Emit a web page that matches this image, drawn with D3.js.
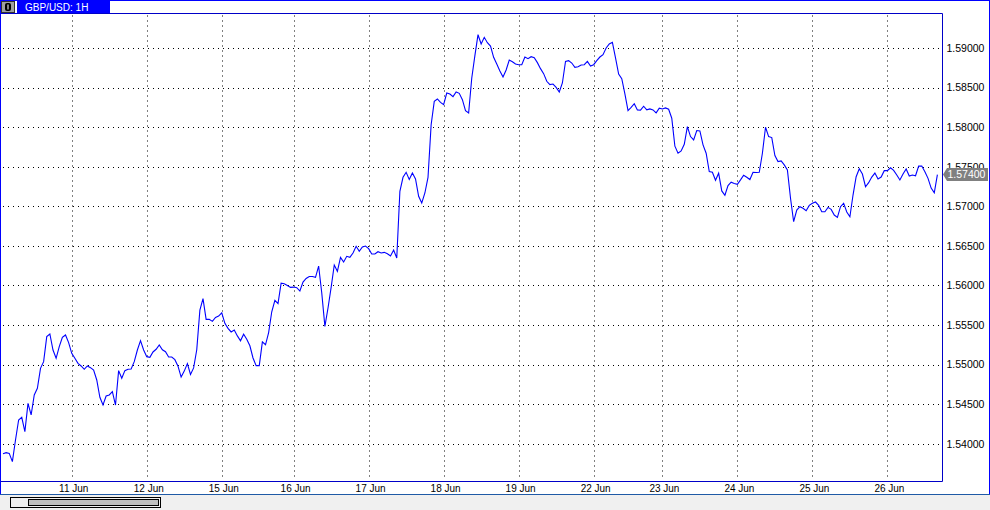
<!DOCTYPE html>
<html><head><meta charset="utf-8">
<script src="https://cdn.jsdelivr.net/npm/d3@7"></script>
<style>
body{margin:0;background:#fff;overflow:hidden}
text{font-family:"Liberation Sans",Arial,sans-serif}
</style>
</head><body><svg id="c" width="990" height="510"></svg>
<script>
// ---------- data ----------
const symbolTitle = "GBP/USD: 1H";
const dayLabels = ["11 Jun","12 Jun","15 Jun","16 Jun","17 Jun","18 Jun","19 Jun","22 Jun","23 Jun","24 Jun","25 Jun","26 Jun"];
const dayStartBar = [22,46,70,93,117,141,165,189,211,235,259,283];
const priceTicks = [1.54,1.545,1.55,1.555,1.56,1.565,1.57,1.575,1.58,1.585,1.59];
const closes = [
1.53874,1.53887,1.53878,1.53773,1.54047,1.54300,1.54333,1.54152,1.54510,1.54363,
1.54616,1.54700,1.54952,1.55037,1.55353,1.55386,1.55184,1.55079,1.55226,1.55344,
1.55374,1.55277,1.55142,1.55079,1.55016,1.54982,1.54940,1.54982,1.54961,1.54931,
1.54805,1.54586,1.54489,1.54603,1.54616,1.54658,1.54489,1.54923,1.54826,1.54923,
1.54940,1.54944,1.55037,1.55184,1.55302,1.55184,1.55100,1.55092,1.55159,1.55193,
1.55247,1.55187,1.55162,1.55096,1.55096,1.55062,1.54979,1.54842,1.54917,1.55012,
1.54875,1.54958,1.55187,1.55687,1.55833,1.55571,1.55571,1.55546,1.55596,1.55612,
1.55654,1.55521,1.55458,1.55412,1.55437,1.55362,1.55300,1.55383,1.55321,1.55237,
1.55083,1.54987,1.54987,1.55287,1.55250,1.55404,1.55667,1.55812,1.55771,1.56029,
1.56021,1.56000,1.55975,1.55979,1.55971,1.55929,1.56042,1.56088,1.56113,1.56113,
1.56102,1.56245,1.55904,1.55483,1.55715,1.55976,1.56258,1.56178,1.56355,1.56296,
1.56368,1.56355,1.56410,1.56494,1.56431,1.56485,1.56498,1.56464,1.56397,1.56397,
1.56426,1.56410,1.56418,1.56401,1.56372,1.56448,1.56346,1.57189,1.57366,1.57429,
1.57340,1.57420,1.57345,1.57126,1.57041,1.57168,1.57366,1.58031,1.58326,1.58356,
1.58313,1.58284,1.58431,1.58419,1.58385,1.58444,1.58427,1.58347,1.58208,1.58179,
1.58621,1.58903,1.59168,1.59051,1.59135,1.59067,1.59025,1.58882,1.58798,1.58709,
1.58634,1.58722,1.58848,1.58827,1.58798,1.58789,1.58789,1.58886,1.58865,1.58890,
1.58878,1.58815,1.58739,1.58676,1.58579,1.58537,1.58545,1.58503,1.58444,1.58558,
1.58831,1.58840,1.58810,1.58756,1.58764,1.58785,1.58789,1.58831,1.58772,1.58789,
1.58840,1.58886,1.58916,1.59000,1.59051,1.59072,1.58874,1.58671,1.58612,1.58419,
1.58208,1.58250,1.58297,1.58218,1.58214,1.58264,1.58218,1.58230,1.58218,1.58180,
1.58239,1.58230,1.58243,1.58226,1.58113,1.57759,1.57670,1.57700,1.57784,1.58007,
1.57881,1.57839,1.57957,1.57952,1.57776,1.57670,1.57439,1.57430,1.57329,1.57418,
1.57194,1.57140,1.57262,1.57304,1.57287,1.57278,1.57333,1.57392,1.57367,1.57338,
1.57430,1.57426,1.57430,1.57670,1.57999,1.57881,1.57868,1.57641,1.57565,1.57573,
1.57523,1.57460,1.57102,1.56805,1.56952,1.56995,1.56974,1.56944,1.57011,1.57037,
1.57054,1.57011,1.56931,1.56931,1.56986,1.56961,1.56889,1.56860,1.56995,1.57037,
1.56927,1.56868,1.57142,1.57374,1.57475,1.57407,1.57247,1.57298,1.57369,1.57420,
1.57344,1.57369,1.57450,1.57450,1.57487,1.57454,1.57395,1.57332,1.57407,1.57471,
1.57382,1.57395,1.57386,1.57508,1.57508,1.57437,1.57353,1.57230,1.57171,1.57400
];
const lastPrice = closes[closes.length - 1];

// ---------- layout ----------
const svg = d3.select("#c");
const plotL = 1, plotT = 13.5, plotR = 942.5, plotB = 481.5;
const x = d3.scaleLinear().domain([0, closes.length - 1]).range([3, 937.4]);
const y = d3.scaleLinear().domain([1.54, 1.59]).range([443.7, 48]);
const px = v => Math.round(v) + 0.5;

// window background
svg.append("rect").attr("x",0).attr("y",0).attr("width",990).attr("height",510).attr("fill","#fff");

// bottom scrollbar strip
svg.append("rect").attr("x",0).attr("y",495).attr("width",990).attr("height",15).attr("fill","#f0f0f0");
svg.append("rect").attr("x",10.5).attr("y",497.5).attr("width",150).attr("height",10)
  .attr("fill","#f0f0f0").attr("stroke","#000");
svg.append("rect").attr("x",28.5).attr("y",499.5).attr("width",130).attr("height",6)
  .attr("fill","#c0c0c0").attr("stroke","#000");

// grid
const grid = svg.append("g").attr("stroke","#000").attr("stroke-dasharray","1,4").attr("stroke-width",1);
grid.selectAll("line.h").data(priceTicks).join("line").attr("class","h")
  .attr("x1",plotL+2).attr("x2",plotR-1).attr("y1",d=>px(y(d))).attr("y2",d=>px(y(d)));
grid.selectAll("line.v").data(dayStartBar).join("line").attr("class","v")
  .attr("y1",plotT+2).attr("y2",plotB-1).attr("x1",d=>px(x(d))).attr("x2",d=>px(x(d)));

// price line
svg.append("defs").append("clipPath").attr("id","clip").append("rect")
  .attr("x",plotL).attr("y",plotT).attr("width",plotR-plotL).attr("height",plotB-plotT);
svg.append("path").datum(closes)
  .attr("clip-path","url(#clip)")
  .attr("fill","none").attr("stroke","#0000ff").attr("stroke-width",1.1)
  .attr("d", d3.line().x((d,i)=>x(i)).y(d=>y(d)));

// plot frame
const frame = svg.append("g").attr("stroke","#0000c8").attr("fill","none");
frame.append("path").attr("d",`M0,${plotT}H${plotR}V${plotB}H0`);

// right price axis
const yAxis = svg.append("g").attr("transform",`translate(${plotR},0)`)
  .call(d3.axisRight(y).tickValues(priceTicks).tickSize(0).tickPadding(4).tickFormat(d3.format(".5f")));
yAxis.select(".domain").remove();
yAxis.selectAll("text").attr("font-size","10.5px").attr("fill","#000")
  .style("font-family","'Liberation Sans',Arial,sans-serif");

// bottom date axis
const xAxis = svg.append("g").attr("transform",`translate(1.5,${plotB})`)
  .call(d3.axisBottom(x).tickValues(dayStartBar).tickSize(0).tickPadding(3)
    .tickFormat((d,i)=>dayLabels[i]));
xAxis.select(".domain").remove();
xAxis.selectAll("text").attr("font-size","10px").attr("fill","#000")
  .style("font-family","'Liberation Sans',Arial,sans-serif");

// last price marker (covers the lower part of the 1.57500 label, as in the original)
const ly = y(lastPrice);
svg.append("path")
  .attr("d",`M943,${ly}L947,${ly-6.5}H988V${ly+6.5}H947Z`)
  .attr("fill","#808080");
svg.append("text").attr("x",947.5).attr("y",ly).attr("dy","0.36em")
  .attr("font-size","10.5px").attr("fill","#fff").text(d3.format(".5f")(lastPrice));

// window border
svg.append("rect").attr("x",0.5).attr("y",0.5).attr("width",989).attr("height",494)
  .attr("fill","none").attr("stroke","#0000ff");
svg.append("line").attr("x1",0).attr("x2",990).attr("y1",494.5).attr("y2",494.5)
  .attr("stroke","#1f5aa6");

// title tab
svg.append("rect").attr("x",17).attr("y",0).attr("width",93).attr("height",13).attr("fill","#0000ff");
svg.append("text").attr("x",25).attr("y",10.5).attr("font-size","10px").attr("fill","#fff").text(symbolTitle);
// window icon
svg.append("rect").attr("x",1.5).attr("y",1.5).attr("width",13).attr("height",11)
  .attr("fill","#a0a0a0").attr("stroke","#303030");
svg.append("rect").attr("x",5).attr("y",3).attr("width",6).attr("height",8).attr("rx",2).attr("fill","#000");
svg.append("rect").attr("x",7.5).attr("y",4.5).attr("width",1).attr("height",5).attr("fill","#fff");
</script>
</body></html>
